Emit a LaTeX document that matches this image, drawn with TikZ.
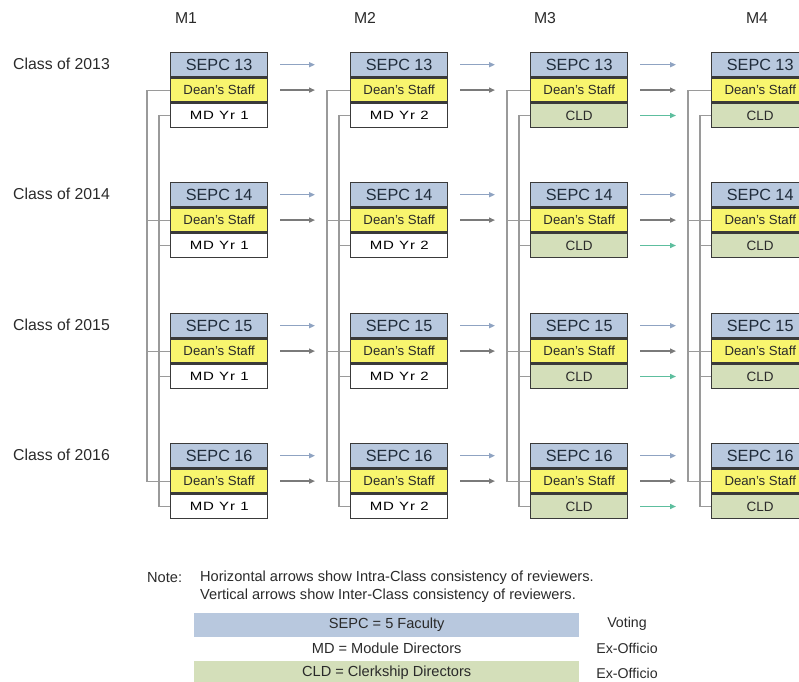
\documentclass[tikz,border=0pt]{standalone}
\usepackage{fontspec}
\setmainfont{Liberation Sans}
\usetikzlibrary{arrows.meta}
\definecolor{sepcfill}{HTML}{B8C8DE}
\definecolor{deanfill}{HTML}{F8F56E}
\definecolor{cldfill}{HTML}{D4DFBA}
\definecolor{boxline}{HTML}{3A3A3A}
\definecolor{connline}{HTML}{9A9A9A}
\definecolor{arSc}{HTML}{8FA3C2}
\definecolor{arDc}{HTML}{7A7A7A}
\definecolor{arCc}{HTML}{5DBE9E}
\definecolor{txt}{HTML}{2A2A2A}
\definecolor{navy}{HTML}{1F2B3A}
\tikzset{
  cell/.style={draw=boxline, line width=1.4pt, minimum width=97pt, minimum height=24pt, inner sep=0pt, text=navy},
  sepc/.style={cell, fill=sepcfill, font=\fontsize{16.2}{18}\selectfont},
  dean/.style={cell, fill=deanfill, font=\fontsize{13.2}{15}\selectfont, text=txt},
  mdbox/.style={cell, fill=white, font=\fontsize{12}{14}\selectfont\addfontfeatures{FakeStretch=1.25,LetterSpace=8}, text=black},
  cldbox/.style={cell, fill=cldfill, font=\fontsize{13.5}{15}\selectfont, text=txt},
  conn/.style={draw=connline, line width=1.1pt},
  arrbase/.style={line width=1.4pt, shorten <=12pt, shorten >=35pt, -{Triangle[length=6pt,width=5pt]}},
  arS/.style={arrbase, draw=arSc},
  arD/.style={arrbase, draw=arDc},
  arC/.style={arrbase, draw=arCc},
  lbl/.style={font=\fontsize{15.8}{18}\selectfont, text=txt, inner sep=0pt},
  note/.style={font=\fontsize{14.6}{16}\selectfont, text=txt, inner sep=0pt, anchor=west},
  legbar/.style={minimum width=385pt, minimum height=23.5pt, inner sep=0pt, anchor=north west, font=\fontsize{14.6}{16}\selectfont, text=txt},
  legside/.style={font=\fontsize{14.2}{16}\selectfont, text=txt, inner sep=0pt}
}
\begin{document}
\begin{tikzpicture}[x=1pt,y=-1pt]
\useasboundingbox (0,0) rectangle (799,681);
\clip (0,0) rectangle (799,681);

% column labels
\node[lbl] (M1) at (186,18) {M1};
\node[lbl] (M2) at (365,18) {M2};
\node[lbl] (M3) at (545,18) {M3};
\node[lbl] (M4) at (757,18) {M4};

% class labels
\node[lbl, anchor=west] (C13) at (13,64) {Class of 2013};
\node[lbl, anchor=west] (C14) at (13,194) {Class of 2014};
\node[lbl, anchor=west] (C15) at (13,325) {Class of 2015};
\node[lbl, anchor=west] (C16) at (13,455) {Class of 2016};

% boxes
\foreach \c/\L in {1/170,2/350,3/530,4/711}{
  \foreach \r/\T/\n in {1/52/13,2/182/14,3/313/15,4/443/16}{
    \node[sepc, anchor=north west] (s\c\r) at (\L,\T) {SEPC \n};
    \node[dean, anchor=north] (d\c\r) at (s\c\r.south) {Dean's Staff};
    \ifnum\c<3
      \node[mdbox, anchor=north] (m\c\r) at (d\c\r.south) {MD Yr \c};
    \else
      \node[cldbox, anchor=north] (m\c\r) at (d\c\r.south) {CLD};
    \fi
  }
}

% vertical connectors
\foreach \c in {1,2,3,4}{
  \draw[conn] (d\c1.west) -- ++(-23,0) |- (d\c4.west);
  \draw[conn] (d\c2.west) -- ++(-23,0);
  \draw[conn] (d\c3.west) -- ++(-23,0);
  \draw[conn] (m\c1.west) -- ++(-11,0) |- (m\c4.west);
  \draw[conn] (m\c2.west) -- ++(-11,0);
  \draw[conn] (m\c3.west) -- ++(-11,0);
}

% horizontal arrows
\foreach \c/\d in {1/2,2/3,3/4}{
  \foreach \r in {1,2,3,4}{
    \draw[arS] (s\c\r.east) -- (s\d\r.west);
    \draw[arD] (d\c\r.east) -- (d\d\r.west);
  }
}
\foreach \r in {1,2,3,4}{
  \draw[arC] (m3\r.east) -- (m4\r.west);
}

% note
\node[note] (notelab) at (147,578) {Note:};
\node[note] (note1) at (200,578) {Horizontal arrows show Intra-Class consistency of reviewers.};
\node[note] (note2) at (200,596) {Vertical arrows show Inter-Class consistency of reviewers.};

% legend
\node[legbar, fill=sepcfill] (lg1) at (194,613) {SEPC = 5 Faculty};
\node[legbar] (lg2) at (194,636.5) {MD = Module Directors};
\node[legbar, fill=cldfill] (lg3) at (194,661) {CLD = Clerkship Directors};
\node[legside] (v1) at (627,624) {Voting};
\node[legside] (v2) at (627,648) {Ex-Officio};
\node[legside] (v3) at (627,673) {Ex-Officio};
\end{tikzpicture}
\end{document}
